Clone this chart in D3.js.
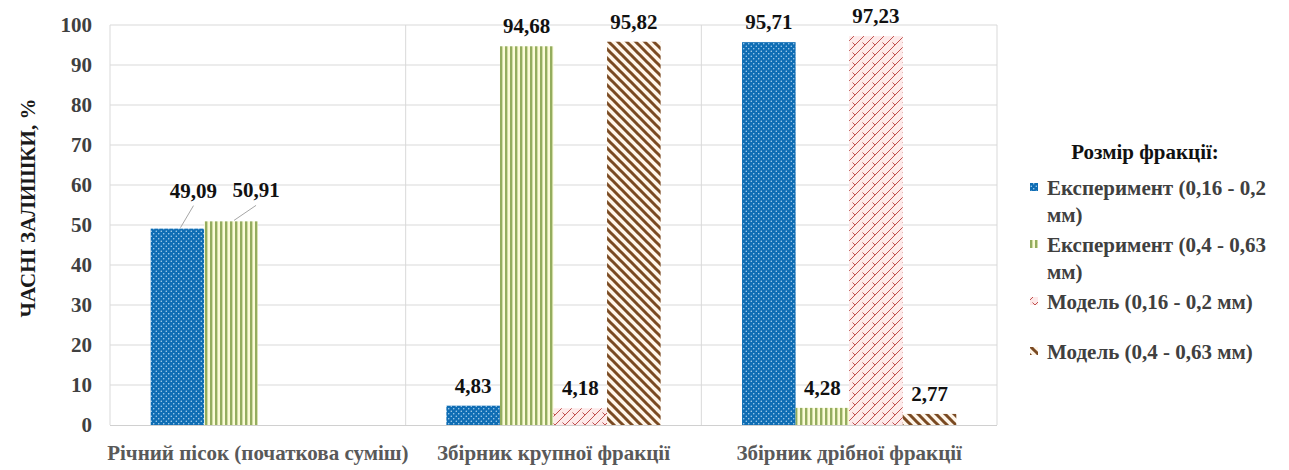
<!DOCTYPE html>
<html>
<head>
<meta charset="utf-8">
<script src="https://cdn.jsdelivr.net/npm/d3@7"></script>
<style>
  html, body { margin: 0; padding: 0; background: #fff; }
  svg { display: block; }
  .warm { position: absolute; left: 0; top: 0; font-family: "Liberation Serif"; font-weight: bold; font-size: 21px; color: #fff; opacity: 0.01; pointer-events: none; }
</style>
</head>
<body>
<div class="warm">Річний пісок 0123456789,%</div>
<svg id="chart" width="1289" height="470"></svg>
<script>
// Chart data
const categories = ["Річний пісок (початкова суміш)", "Збірник крупної фракції", "Збірник дрібної фракції"];
const seriesNames = ["Експеримент (0,16 - 0,2 мм)", "Експеримент (0,4 - 0,63 мм)", "Модель (0,16 - 0,2 мм)", "Модель (0,4 - 0,63 мм)"];
const expFine   = [49.09, 4.83, 95.71];
const expCoarse = [50.91, 94.68, 4.28];
const modFine   = [null, 4.18, 97.23];
const modCoarse = [null, 95.82, 2.77];
const yTicks = [0, 10, 20, 30, 40, 50, 60, 70, 80, 90, 100];
const yTitle = "ЧАСНІ ЗАЛИШКИ, %";
const legendTitle = "Розмір фракції:";
const legendLines = [["Експеримент (0,16 - 0,2", "мм)"], ["Експеримент (0,4 - 0,63", "мм)"], ["Модель (0,16 - 0,2 мм)"], ["Модель (0,4 - 0,63 мм)"]];

const seriesValues = [expFine, expCoarse, modFine, modCoarse];
const fmt = v => v.toFixed(2).replace(".", ",");
const FONT = '"Liberation Serif"';

const svg = d3.select("#chart");
const plot = { left: 110, right: 997, top: 25, bottom: 425 };

function styleText(sel, size, color) {
  return sel.style("font-family", FONT).style("font-weight", "bold")
    .style("font-size", size + "px").attr("fill", color);
}

// Fill patterns for each series
const defs = svg.append("defs");

const pDots = defs.append("pattern").attr("id", "pat0").attr("patternUnits", "userSpaceOnUse")
  .attr("width", 5).attr("height", 5);
pDots.append("rect").attr("width", 5).attr("height", 5).attr("fill", "#0f6db4");
pDots.append("circle").attr("cx", 1.25).attr("cy", 1.25).attr("r", 0.7).attr("fill", "#bfe0f7");
pDots.append("circle").attr("cx", 3.75).attr("cy", 3.75).attr("r", 0.7).attr("fill", "#bfe0f7");

const pVert = defs.append("pattern").attr("id", "pat1").attr("patternUnits", "userSpaceOnUse")
  .attr("width", 5).attr("height", 10);
pVert.append("rect").attr("width", 5).attr("height", 10).attr("fill", "#fbfbd6");
pVert.append("rect").attr("x", 0).attr("width", 2.4).attr("height", 10).attr("fill", "#94ad5e");

const pBrick = defs.append("pattern").attr("id", "pat2").attr("patternUnits", "userSpaceOnUse")
  .attr("width", 10).attr("height", 10);
pBrick.append("rect").attr("width", 10).attr("height", 10).attr("fill", "#fdeaea");
pBrick.append("path").attr("d", "M0,10 L10,0 M-1,1 L1,-1 M9,11 L11,9 M2.5,2.5 L5,5")
  .attr("stroke", "#c0504d").attr("stroke-width", 1).attr("fill", "none");

const pDiag = defs.append("pattern").attr("id", "pat3").attr("patternUnits", "userSpaceOnUse")
  .attr("width", 9).attr("height", 9);
pDiag.append("rect").attr("width", 9).attr("height", 9).attr("fill", "#fff6ea");
pDiag.append("path").attr("d", "M-2,-2 L11,11 M-2,7 L2,11 M7,-2 L11,2")
  .attr("stroke", "#7a4a22").attr("stroke-width", 3).attr("fill", "none");

// Scales
const x0 = d3.scaleBand().domain(categories).range([plot.left, plot.right]).paddingInner(0).paddingOuter(0);
const x1 = d3.scaleBand().domain(d3.range(seriesNames.length)).range([0, x0.bandwidth()])
  .paddingInner(0).paddingOuter(0.76);
const y = d3.scaleLinear().domain([0, 100]).range([plot.bottom, plot.top]);

// Gridlines
const grid = svg.append("g");
grid.selectAll("line.h").data(yTicks.filter(t => t > 0)).join("line")
  .attr("x1", plot.left).attr("x2", plot.right)
  .attr("y1", d => y(d)).attr("y2", d => y(d))
  .attr("stroke", "#d9d9d9").attr("stroke-width", 1);
const vx = categories.map(c => x0(c)).concat([plot.right]);
grid.selectAll("line.v").data(vx).join("line")
  .attr("x1", d => d).attr("x2", d => d)
  .attr("y1", plot.top).attr("y2", plot.bottom)
  .attr("stroke", "#d9d9d9").attr("stroke-width", 1);

// Y axis labels
const yAxis = d3.axisLeft(y).tickValues(yTicks).tickSize(0).tickPadding(18);
const yG = svg.append("g").attr("transform", `translate(${plot.left},0)`).call(yAxis);
yG.select(".domain").remove();
yG.attr("font-family", null).attr("font-size", null);
styleText(yG.selectAll("text"), 21, "#404040");

// Bars
const flat = [];
categories.forEach((c, ci) => {
  seriesValues.forEach((arr, si) => {
    if (arr[ci] != null) flat.push({ c, ci, si, v: arr[ci] });
  });
});
svg.append("g").selectAll("rect").data(flat).join("rect")
  .attr("x", d => x0(d.c) + x1(d.si))
  .attr("width", x1.bandwidth())
  .attr("y", d => y(d.v))
  .attr("height", d => y(0) - y(d.v))
  .attr("fill", d => `url(#pat${d.si})`);

// X axis line and category labels
svg.append("line").attr("x1", plot.left).attr("x2", plot.right)
  .attr("y1", plot.bottom + 0.5).attr("y2", plot.bottom + 0.5)
  .attr("stroke", "#d0d0d0").attr("stroke-width", 1);
const xAxis = d3.axisBottom(x0).tickSize(0).tickPadding(20);
const xG = svg.append("g").attr("transform", `translate(0,${plot.bottom})`).call(xAxis);
xG.select(".domain").remove();
xG.attr("font-family", null).attr("font-size", null);
styleText(xG.selectAll("text"), 21, "#595959");

// Data labels (the first group's labels sit off the bars with leader lines)
const labelShift = { "0-0": [16, -31], "0-1": [25, -24] };
const lab = svg.append("g");
flat.forEach(d => {
  const cx = x0(d.c) + x1(d.si) + x1.bandwidth() / 2;
  const top = y(d.v);
  const sh = labelShift[`${d.ci}-${d.si}`];
  const tx = sh ? cx + sh[0] : cx;
  const ty = sh ? top + sh[1] : top - 13;
  if (sh) {
    lab.append("line").attr("x1", cx + 3).attr("y1", top - 1)
      .attr("x2", tx).attr("y2", ty + 8)
      .attr("stroke", "#a6a6a6").attr("stroke-width", 1);
  }
  styleText(lab.append("text").attr("x", tx).attr("y", ty).attr("text-anchor", "middle"), 21, "#111")
    .text(fmt(d.v));
});

// Y axis title
styleText(svg.append("text")
  .attr("transform", `translate(35,${(plot.top + plot.bottom) / 2 - 17}) rotate(-90)`)
  .attr("text-anchor", "middle"), 21, "#1a1a1a")
  .text(yTitle);

// Legend
const leg = svg.append("g");
styleText(leg.append("text").attr("x", 1145).attr("y", 159).attr("text-anchor", "middle"), 21, "#111")
  .text(legendTitle);
const entryY = [195, 252, 309, 359];
legendLines.forEach((lines, i) => {
  leg.append("rect").attr("x", 1030).attr("y", entryY[i] - 12).attr("width", 8).attr("height", 8)
    .attr("fill", `url(#pat${i})`);
  lines.forEach((t, j) => {
    styleText(leg.append("text").attr("x", 1047).attr("y", entryY[i] + j * 27), 21, "#404040").text(t);
  });
});

// Ask for the serif face explicitly so the text repaints with it once it is ready
if (document.fonts && document.fonts.load) {
  document.fonts.load('bold 21px "Liberation Serif"', "Річний 0123456789").catch(() => {});
}
</script>
</body>
</html>
